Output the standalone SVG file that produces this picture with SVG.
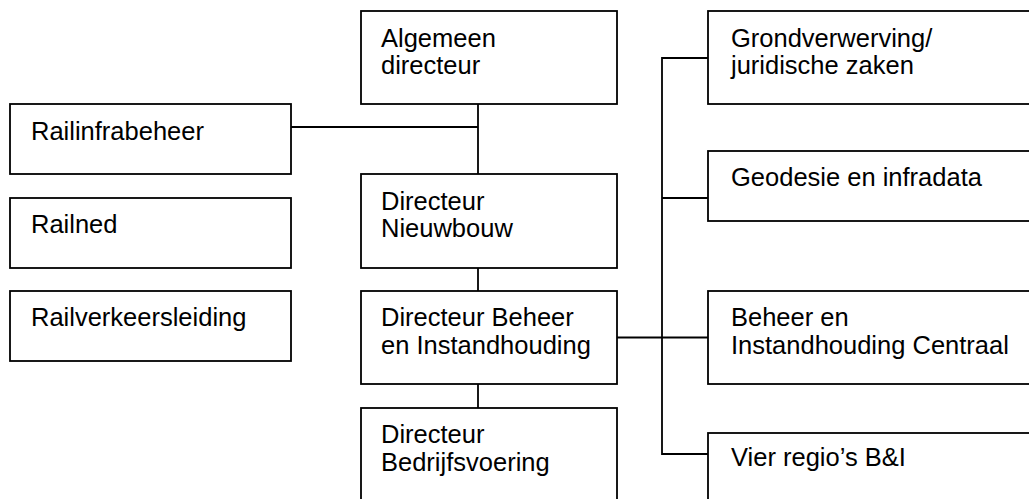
<svg xmlns="http://www.w3.org/2000/svg" width="1029" height="499" viewBox="0 0 1029 499">
<style>
.box{fill:#fff;stroke:#000;stroke-width:1.8}
.t{font-family:"Liberation Sans",Arial,sans-serif;font-size:25.5px;fill:#000}
.c{stroke:#000;stroke-width:1.8;fill:none}
</style>
<rect width="1029" height="499" fill="#fff"/>
<g id="connectors">
<path class="c" d="M478 104V174M291 127H478"/>
<path class="c" d="M478 268V291"/>
<path class="c" d="M478 384V408"/>
<path class="c" d="M617 337.5H708"/>
<path class="c" d="M708 58H662V454H708M662 198H708"/>
</g>
<g id="algemeen"><rect class="box" x="361" y="11" width="256" height="93"/><text class="t" x="381" y="46.5">Algemeen</text><text class="t" x="381" y="74">directeur</text></g>
<g id="railinfrabeheer"><rect class="box" x="10" y="104" width="281" height="70"/><text class="t" x="31" y="140">Railinfrabeheer</text></g>
<g id="railned"><rect class="box" x="10" y="198" width="281" height="70"/><text class="t" x="31" y="233">Railned</text></g>
<g id="railverkeersleiding"><rect class="box" x="10" y="291" width="281" height="70"/><text class="t" x="31" y="326">Railverkeersleiding</text></g>
<g id="nieuwbouw"><rect class="box" x="361" y="174" width="256" height="94"/><text class="t" x="381" y="209.5">Directeur</text><text class="t" x="381" y="237">Nieuwbouw</text></g>
<g id="beheer"><rect class="box" x="361" y="291" width="256" height="93"/><text class="t" x="381" y="326">Directeur Beheer</text><text class="t" x="381" y="353.5">en Instandhouding</text></g>
<g id="bedrijfsvoering"><rect class="box" x="361" y="408" width="256" height="110"/><text class="t" x="381" y="443">Directeur</text><text class="t" x="381" y="470.5">Bedrijfsvoering</text></g>
<g id="grondverwerving"><rect class="box" x="708" y="11" width="340" height="93"/><text class="t" x="731" y="46.5">Grondverwerving/</text><text class="t" x="731" y="74">juridische zaken</text></g>
<g id="geodesie"><rect class="box" x="708" y="151" width="340" height="70"/><text class="t" x="731" y="185.5">Geodesie en infradata</text></g>
<g id="bic"><rect class="box" x="708" y="291" width="340" height="93"/><text class="t" x="731" y="326">Beheer en</text><text class="t" x="731" y="353.5">Instandhouding Centraal</text></g>
<g id="vierregios"><rect class="box" x="708" y="433" width="340" height="90"/><text class="t" x="731" y="465.5">Vier regio’s B&amp;I</text></g>
</svg>
